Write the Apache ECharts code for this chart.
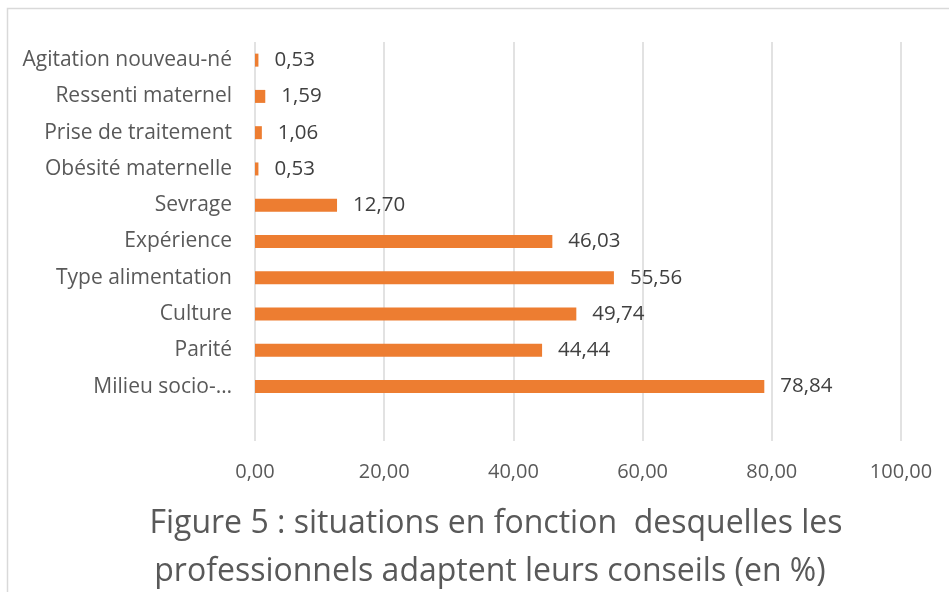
<!DOCTYPE html>
<html>
<head>
<meta charset="utf-8">
<script src="https://cdn.jsdelivr.net/npm/echarts@6/dist/echarts.min.js"></script>
<style>
  html, body { margin: 0; padding: 0; background: #fff; }
  #main { width: 949px; height: 592px; }
</style>
</head>
<body>
<div id="main"></div>
<script>
// categories listed from top to bottom (last one is the empty row Excel left at the bottom)
var categories = ['Agitation nouveau-né', 'Ressenti maternel', 'Prise de traitement', 'Obésité maternelle',
  'Sevrage', 'Expérience', 'Type alimentation', 'Culture', 'Parité', 'Milieu socio-…', ''];
var values = [0.53, 1.59, 1.06, 0.53, 12.70, 46.03, 55.56, 49.74, 44.44, 78.84, null];
var xTicks = [0, 20, 40, 60, 80, 100];

var FONT = '"Open Sans", "Liberation Sans", sans-serif';
var fmt = function (v) { return v.toFixed(2).replace('.', ','); };

var myChart = echarts.init(document.getElementById('main'));
myChart.setOption({
  backgroundColor: '#fff',
  animation: false,
  grid: { left: 255, right: 48, top: 42, bottom: 151 },
  xAxis: {
    type: 'value',
    min: xTicks[0],
    max: xTicks[xTicks.length - 1],
    interval: 20,
    axisLine: { show: false },
    axisTick: { show: false },
    splitLine: { lineStyle: { color: '#d9d9d9', width: 1.5 } },
    axisLabel: { color: '#595959', fontSize: 20, fontFamily: FONT, margin: 21, formatter: fmt }
  },
  yAxis: {
    type: 'category',
    inverse: true,
    data: categories,
    axisLine: { show: false },
    axisTick: { show: false },
    axisLabel: { color: '#595959', fontSize: 21, fontFamily: FONT, margin: 23, padding: [3, 0, 0, 0] }
  },
  series: [{
    type: 'bar',
    data: values,
    barWidth: 13,
    itemStyle: { color: '#ed7d31' },
    label: {
      show: true,
      position: 'right',
      distance: 16,
      color: '#404040',
      fontSize: 20.5,
      fontFamily: FONT,
      padding: [3, 0, 0, 0],
      formatter: function (p) { return fmt(p.value); }
    }
  }],
  graphic: [
    { type: 'rect', silent: true, shape: { x: 7.5, y: 8.5, width: 1200, height: 1200 },
      style: { fill: 'none', stroke: '#d9d9d9', lineWidth: 1.5 } },
    { type: 'text', style: { x: 496, y: 524, text: 'Figure 5 : situations en fonction  desquelles les',
      textAlign: 'center', textVerticalAlign: 'middle', fill: '#595959', font: '32px ' + FONT } },
    { type: 'text', style: { x: 490, y: 572, text: 'professionnels adaptent leurs conseils (en %)',
      textAlign: 'center', textVerticalAlign: 'middle', fill: '#595959', font: '32px ' + FONT } }
  ]
});
</script>
</body>
</html>
